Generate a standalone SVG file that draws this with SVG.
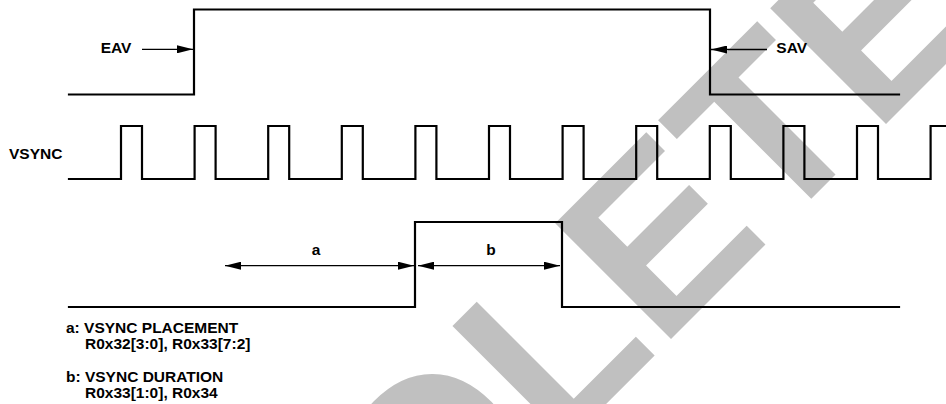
<svg xmlns="http://www.w3.org/2000/svg" width="946" height="404" viewBox="0 0 946 404">
<style>
.wm{font-family:"Liberation Sans",Arial,sans-serif;font-weight:bold;font-size:238px;fill:#c0c0c0}
.sig{fill:none;stroke:#000;stroke-width:2.2;stroke-linejoin:miter;stroke-linecap:square}
.arr{fill:none;stroke:#000;stroke-width:1.3}
.lbl{font-family:"Liberation Sans",Arial,Helvetica,sans-serif;font-weight:bold;font-size:15.5px;fill:#000}
</style>
<defs>
<marker id="ah" viewBox="0 0 16 8" refX="16" refY="4" markerWidth="16" markerHeight="8" markerUnits="userSpaceOnUse" orient="auto-start-reverse">
<path d="M0,0 L16,4 L0,8 Z" fill="#000"/>
</marker>
</defs>
<rect width="946" height="404" fill="#fff"/>
<g id="watermark">
<text class="wm" x="61.3" y="948.7" transform="rotate(-45 61.3 948.7)">OBSOLETE</text>
</g>
<g id="video-signal">
<path class="sig" d="M69,94.5 H194 V9.5 H710 V94.5 H899"/>
<text class="lbl" x="100.7" y="53.3">EAV</text>
<text class="lbl" x="776.3" y="53.3">SAV</text>
</g>
<g id="vsync-signal">
<text class="lbl" x="9" y="159.3">VSYNC</text>
<path class="sig" d="M69,179 H121 V126 H142 V179 H194.6 V126 H215.6 V179 H268.2 V126 H289.2 V179 H341.8 V126 H362.8 V179 H415.4 V126 H436.4 V179 H489 V126 H510 V179 H562.6 V126 H583.6 V179 H636.2 V126 H657.2 V179 H709.8 V126 H730.8 V179 H783.4 V126 H804.4 V179 H857 V126 H878 V179 H930.6 V126 H947"/>
</g>
<g id="vsync-output">
<path class="sig" d="M69,307 H415 V222 H562 V307 H899"/>
<text class="lbl" x="316" y="254.8" text-anchor="middle">a</text>
<text class="lbl" x="491" y="254.8" text-anchor="middle">b</text>
</g>
<g id="legend">
<text class="lbl" x="66" y="332.7">a: VSYNC PLACEMENT</text>
<text class="lbl" x="85" y="349.3">R0x32[3:0], R0x33[7:2]</text>
<text class="lbl" x="66" y="381.7">b: VSYNC DURATION</text>
<text class="lbl" x="85" y="398.3">R0x33[1:0], R0x34</text>
</g>
<g id="connectors">
<line class="arr" x1="142" y1="49.3" x2="193" y2="49.3" marker-end="url(#ah)"/>
<line class="arr" x1="767" y1="49.5" x2="711" y2="49.5" marker-end="url(#ah)"/>
<line class="arr" x1="225" y1="265.7" x2="414" y2="265.7" marker-start="url(#ah)" marker-end="url(#ah)"/>
<line class="arr" x1="418" y1="265.7" x2="560" y2="265.7" marker-start="url(#ah)" marker-end="url(#ah)"/>
</g>
</svg>
